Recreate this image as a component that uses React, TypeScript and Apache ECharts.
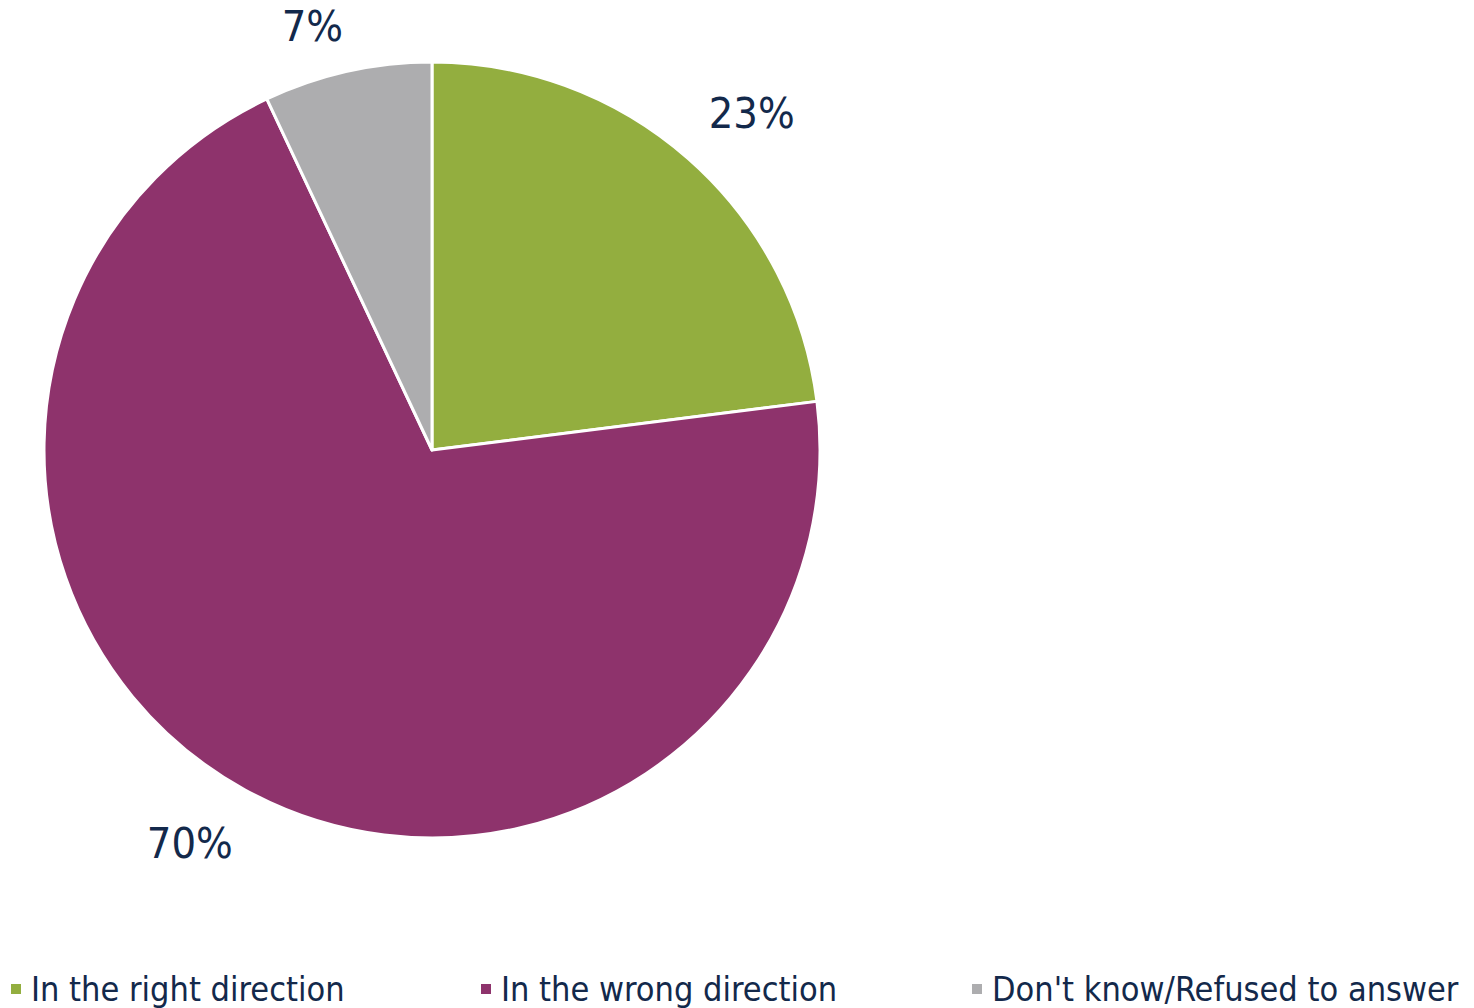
import React, { useEffect, useRef } from "react";
import * as echarts from "echarts";

const categories = ["In the right direction", "In the wrong direction", "Don't know/Refused to answer"];
const values = [23, 70, 7];
const colors = ["#93ae3f", "#8e336c", "#adadaf"];
const legendLefts = [4, 474, 965];
// small nudges of the outside labels, in pixels
const labelNudges: [number, number][] = [[-10, -17], [11, 20], [9, -8]];

const FONT = "'DejaVu Sans Condensed', 'DejaVu Sans', sans-serif";
const TEXT = "#13294b";

export default function App() {
  const ref = useRef<HTMLDivElement>(null);
  useEffect(() => {
    if (!ref.current) return;
    const chart = echarts.init(ref.current, undefined, { renderer: "svg" });
    chart.setOption({
      animation: false,
      backgroundColor: "#ffffff",
      color: colors,
      legend: categories.map((c, i) => ({
        data: [c],
        left: legendLefts[i],
        top: 966,
        itemWidth: 12,
        itemHeight: 12,
        itemGap: 0,
        icon: "rect",
        selectedMode: false,
        textStyle: { fontFamily: FONT, fontSize: 34, color: TEXT, lineHeight: 36, padding: [0, 0, 0, 4] },
      })),
      series: [
        {
          type: "pie",
          center: [432, 450],
          radius: [0, 388],
          startAngle: 90,
          clockwise: true,
          avoidLabelOverlap: false,
          itemStyle: { borderColor: "#ffffff", borderWidth: 3 },
          label: {
            show: true,
            position: "outside",
            formatter: "{c}%",
            fontFamily: FONT,
            fontSize: 43,
            color: TEXT,
          },
          labelLine: { show: false, length: 38, length2: 0 },
          labelLayout: (p: any) => ({ dx: labelNudges[p.dataIndex][0], dy: labelNudges[p.dataIndex][1] }),
          emphasis: { disabled: true },
          data: categories.map((name, i) => ({ name, value: values[i] })),
        },
      ],
    });
    return () => chart.dispose();
  }, []);
  return <div ref={ref} style={{ position: "fixed", left: 0, top: 0, width: 1474, height: 1008 }} />;
}
